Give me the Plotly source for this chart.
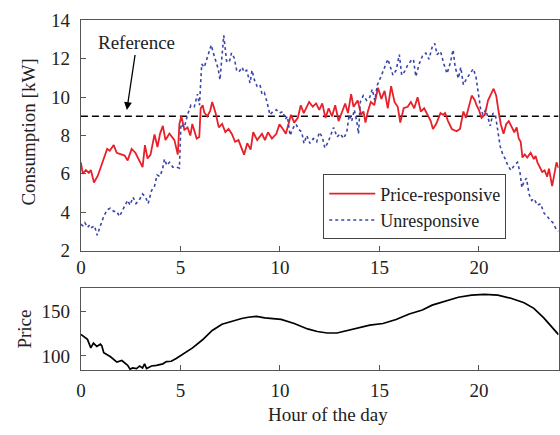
import plotly.graph_objects as go

# ---------------- data ----------------
RED_H = [0.0, 0.1, 0.25, 0.4, 0.5, 0.66, 0.85, 1.07, 1.15, 1.32, 1.45, 1.65, 1.8, 2.06, 2.2, 2.35,
         2.55, 2.74, 2.9, 3.1, 3.22, 3.35, 3.5, 3.7, 3.85, 3.98, 4.12, 4.25, 4.45, 4.6, 4.7, 4.87,
         4.95, 5.05, 5.2, 5.36, 5.5, 5.6, 5.72, 5.82, 5.95, 6.02, 6.12, 6.2, 6.35, 6.5, 6.6, 6.77,
         6.93, 7.1, 7.26, 7.42, 7.58, 7.75, 7.92, 8.08, 8.2, 8.36, 8.53, 8.66, 8.86, 9.1, 9.25, 9.4,
         9.6, 9.82, 9.98, 10.15, 10.3, 10.56, 10.72, 10.9, 11.05, 11.2, 11.47, 11.65, 11.82, 11.98,
         12.13, 12.29, 12.45, 12.62, 12.78, 12.95, 13.1, 13.28, 13.42, 13.58, 13.7, 13.91, 14.08,
         14.2, 14.3, 14.42, 14.57, 14.74, 14.93, 15.1, 15.26, 15.42, 15.59, 15.76, 15.92, 16.05,
         16.22, 16.42, 16.58, 16.75, 16.92, 17.08, 17.25, 17.41, 17.58, 17.69, 17.85, 18.07, 18.2,
         18.3, 18.45, 18.64, 18.88, 19.05, 19.22, 19.35, 19.47, 19.64, 19.8, 19.88, 20.0, 20.13,
         20.3, 20.46, 20.74, 20.87, 20.99, 21.1, 21.24, 21.37, 21.5, 21.62, 21.78, 21.9, 22.0,
         22.1, 22.19, 22.3, 22.43, 22.6, 22.76, 22.85, 22.94, 23.18, 23.3, 23.43, 23.52, 23.68,
         23.78, 23.9, 24.0]
RED_V = [6.6, 6.0, 6.2, 6.05, 6.2, 5.55, 5.9, 6.6, 6.8, 7.3, 7.2, 7.5, 7.1, 7.0, 6.95, 6.7,
         7.3, 7.1, 6.8, 6.35, 7.5, 6.8, 7.0, 8.05, 7.4, 8.1, 8.5, 7.76, 8.1, 7.9, 7.76, 7.0,
         8.6, 9.0, 8.3, 8.42, 8.0, 8.6, 8.2, 7.84, 7.92, 9.42, 9.58, 9.2, 9.0, 9.3, 9.75, 9.17,
         8.42, 8.6, 8.17, 8.34, 8.09, 7.67, 7.76, 7.35, 7.0, 7.6, 7.26, 8.17, 7.76, 8.09, 7.76, 8.17,
         7.84, 8.09, 8.59, 8.34, 8.09, 9.08, 8.67, 8.92, 9.58, 9.17, 9.75, 9.5, 9.67, 9.34,
         9.67, 8.92, 9.42, 9.0, 9.58, 8.75, 9.17, 9.67, 9.17, 10.16, 9.5, 9.83, 9.08,
         9.25, 8.67, 9.25, 9.75, 9.58, 10.49, 9.91, 10.33, 9.42, 10.57, 9.75, 9.5, 8.67,
         9.42, 9.5, 9.75, 9.42, 10.0, 9.25, 9.42, 9.08, 8.75, 8.34, 8.6, 9.17, 9.08,
         9.17, 8.75, 8.34, 8.22, 8.34, 9.25, 8.92, 9.42, 10.08, 9.83, 9.58, 9.34, 8.92,
         9.08, 9.83, 10.44, 10.08, 9.25, 8.59, 8.09, 8.59, 8.75, 8.5, 8.17, 8.42, 7.84,
         7.67, 6.85, 7.01, 6.85, 7.1, 6.77, 6.93, 6.6, 6.1, 6.18, 5.85, 6.27, 5.36,
         5.93, 6.6, 6.3]

BLUE_H = [0.0, 0.1, 0.2, 0.33, 0.45, 0.55, 0.68, 0.82, 0.98, 1.15, 1.32, 1.48, 1.65, 1.8, 1.94,
          2.1, 2.22, 2.35, 2.47, 2.62, 2.77, 2.93, 3.1, 3.25, 3.38, 3.55, 3.7, 3.83, 3.96, 4.09,
          4.2, 4.32, 4.45, 4.62, 4.79, 4.95, 5.03, 5.2, 5.36, 5.53, 5.7, 5.86, 5.96, 6.07, 6.2,
          6.35, 6.55, 6.68, 6.8, 6.9, 6.99, 7.08, 7.18, 7.32, 7.45, 7.57, 7.7, 7.83, 7.94, 8.1,
          8.2, 8.33, 8.5, 8.6, 8.72, 8.85, 9.0, 9.1, 9.22, 9.35, 9.5, 9.65, 9.82, 9.98, 10.15,
          10.27, 10.38, 10.51, 10.68, 10.81, 10.93, 11.1, 11.21, 11.35, 11.51, 11.68, 11.85,
          11.98, 12.13, 12.26, 12.43, 12.58, 12.7, 12.87, 13.03, 13.2, 13.36, 13.48, 13.61,
          13.74, 13.86, 13.95, 14.04, 14.19, 14.36, 14.52, 14.64, 14.77, 14.9, 15.01, 15.18,
          15.3, 15.43, 15.56, 15.68, 15.84, 16.0, 16.12, 16.25, 16.41, 16.58, 16.71, 16.83,
          17.0, 17.16, 17.33, 17.49, 17.66, 17.78, 17.9, 18.07, 18.24, 18.4, 18.57, 18.7,
          18.81, 18.97, 19.09, 19.22, 19.39, 19.55, 19.72, 19.85, 19.97, 20.08, 20.21, 20.34,
          20.46, 20.57, 20.71, 20.84, 20.95, 21.07, 21.2, 21.33, 21.45, 21.61, 21.78, 21.94,
          22.06, 22.16, 22.27, 22.39, 22.52, 22.65, 22.77, 22.94, 23.1, 23.27, 23.43, 23.55,
          23.72, 23.88, 24.0]
BLUE_V = [3.37, 3.29, 3.45, 3.2, 3.35, 3.2, 3.29, 2.79, 3.29, 3.78, 4.12, 4.2, 4.04, 4.04, 3.78,
          4.12, 4.37, 4.62, 4.37, 4.78, 4.45, 4.62, 4.95, 4.78, 4.45, 5.12, 5.36, 5.94, 5.86, 6.19,
          6.77, 6.44, 6.6, 6.35, 6.35, 6.3, 8.6, 8.42, 9.08, 9.58, 9.5, 10.16, 9.58, 11.73, 11.56,
          12.06, 12.72, 12.22, 11.73, 11.48, 10.9, 12.06, 13.22, 11.89, 11.81, 12.3, 12.06, 11.4, 11.31, 11.56,
          11.31, 11.4, 10.74, 11.4, 10.9, 10.57, 10.65, 10.16, 10.24, 9.75, 9.08, 9.25, 9.34, 9.17, 9.25,
          8.84, 9.0, 8.0, 8.42, 8.59, 8.34, 8.17, 7.59, 8.0, 7.59, 7.84, 7.67,
          8.17, 7.92, 7.35, 7.67, 8.09, 8.42, 7.92, 8.09, 7.84, 8.17, 9.08, 8.75,
          9.34, 8.75, 8.09, 9.75, 10.08, 9.83, 10.0, 10.41, 9.83, 10.65, 10.9, 11.4,
          11.65, 11.98, 11.48, 11.15, 11.4, 12.22, 11.15, 11.31, 11.65, 11.89, 11.98, 11.07,
          11.73, 12.14, 12.3, 11.98, 12.64, 12.8, 12.22, 12.39, 11.73, 11.23, 11.81, 12.47,
          11.56, 10.98, 11.56, 10.65, 10.98, 11.23, 11.48, 11.07, 10.24, 9.42, 9.08, 9.34,
          8.92, 8.5, 9.17, 9.0, 8.25, 7.43, 7.01, 6.77, 6.44, 6.18, 6.44, 6.6,
          6.1, 5.28, 5.6, 5.77, 4.94, 4.61, 4.7, 4.36, 4.44, 3.95, 3.79, 3.62,
          3.45, 3.12, 3.0]

PRICE_H = [0.0, 0.33, 0.5, 0.63, 0.8, 0.98, 1.05, 1.15, 1.49, 1.81, 2.06, 2.23, 2.35, 2.47, 2.6,
           2.8, 2.95, 3.1, 3.2, 3.3, 3.55, 3.8, 4.12, 4.3, 4.54, 4.79, 5.11, 5.61, 6.1, 6.6,
           7.09, 7.59, 8.08, 8.41, 8.83, 9.24, 9.73, 10.06, 10.72, 11.39, 11.88, 12.38, 12.87,
           13.37, 14.03, 14.52, 15.18, 15.84, 16.5, 17.16, 17.65, 18.31, 18.97, 19.63, 20.29,
           20.95, 21.61, 22.27, 22.76, 23.26, 23.67, 24.0]
PRICE_V = [124.3, 118.6, 109.0, 114.3, 110.7, 113.2, 111.4, 103.6, 99.0, 92.9, 94.7, 91.0, 89.3, 85.0, 86.4,
           85.7, 88.6, 86.4, 91.0, 85.7, 88.6, 89.3, 91.0, 93.6, 93.9, 97.1, 101.8, 109.0, 117.9, 128.6,
           135.7, 139.3, 142.2, 143.6, 144.6, 142.9, 141.8, 141.1, 136.5, 130.4, 127.5, 125.8, 125.8,
           128.6, 132.2, 134.7, 136.5, 141.1, 147.2, 151.8, 157.2, 161.5, 166.1, 168.6, 169.3,
           168.6, 165.0, 160.0, 153.6, 142.9, 132.2, 124.0]

REFERENCE = 9
X_TICKS = [0, 5, 10, 15, 20]
Y1_TICKS = [2, 4, 6, 8, 10, 12, 14]
Y2_TICKS = [100, 150]

FONT = "Liberation Serif"
FS = 19
TXT = "#222222"
W, H = 560, 435
L, R = 76.7, 559.5
T1, B1 = 11, 252.7
T2, B2 = 291.7, 378.3

fig = go.Figure()
fig.add_trace(go.Scatter(x=[0, 24], y=[REFERENCE, REFERENCE], mode="lines",
                         line=dict(color="black", width=1.4, dash="7px,4px"),
                         showlegend=False, hoverinfo="skip", xaxis="x", yaxis="y"))
fig.add_trace(go.Scatter(x=RED_H, y=RED_V, mode="lines", name="Price-responsive",
                         line=dict(color="#e8202a", width=1.8), xaxis="x", yaxis="y"))
fig.add_trace(go.Scatter(x=BLUE_H, y=BLUE_V, mode="lines", name="Unresponsive",
                         line=dict(color="#3b47a8", width=1.6, dash="dot"), xaxis="x", yaxis="y"))
fig.add_trace(go.Scatter(x=PRICE_H, y=PRICE_V, mode="lines", showlegend=False,
                         line=dict(color="black", width=1.7), xaxis="x2", yaxis="y2"))

axis_common = dict(showgrid=False, zeroline=False, showline=True, linecolor="#555555",
                   linewidth=1, mirror=True, ticks="inside", ticklen=5, tickcolor="#555555",
                   tickfont=dict(family=FONT, size=FS, color=TXT))

fig.update_layout(
    width=W, height=H, margin=dict(l=0, r=0, t=0, b=0),
    paper_bgcolor="white", plot_bgcolor="white",
    font=dict(family=FONT, size=FS, color=TXT),
    xaxis=dict(domain=[L / W, R / W], range=[0, 24], tickvals=X_TICKS, anchor="y", **axis_common),
    yaxis=dict(domain=[1 - B1 / H, 1 - T1 / H], range=[2, 14], tickvals=Y1_TICKS, anchor="x",
               ticklabelstandoff=6, **axis_common),
    xaxis2=dict(domain=[L / W, R / W], range=[0, 24], tickvals=X_TICKS, anchor="y2",
                ticklabelstandoff=3, **axis_common),
    yaxis2=dict(domain=[1 - B2 / H, 1 - T2 / H], range=[84, 177], tickvals=Y2_TICKS, anchor="x2",
                ticklabelstandoff=6, **axis_common),
    legend=dict(x=321.7 / W, y=1 - 172.7 / H, xanchor="left", yanchor="top",
                bgcolor="white", bordercolor="#444444", borderwidth=1,
                font=dict(family=FONT, size=18, color=TXT), itemwidth=46,
                tracegroupgap=0),
    showlegend=True,
)

fig.add_annotation(text="Reference", xref="x", yref="y", x=2.31, y=9.33,
                   ax=10, ay=-67, axref="pixel", ayref="pixel",
                   showarrow=True, arrowhead=2, arrowsize=1.2, arrowwidth=1.3, arrowcolor="black",
                   font=dict(family=FONT, size=FS, color=TXT))
fig.add_annotation(text="Consumption [kW]", xref="paper", yref="paper", x=24 / W,
                   y=1 - 128 / H, textangle=-90, showarrow=False,
                   xanchor="center", yanchor="middle",
                   font=dict(family=FONT, size=FS, color=TXT))
fig.add_annotation(text="Price", xref="paper", yref="paper", x=20 / W,
                   y=1 - (T2 + B2) / 2 / H, textangle=-90, showarrow=False,
                   xanchor="center", yanchor="middle",
                   font=dict(family=FONT, size=FS, color=TXT))
fig.add_annotation(text="Hour of the day", xref="paper", yref="paper", x=326 / W,
                   y=1 - 425 / H, showarrow=False, xanchor="center", yanchor="middle",
                   font=dict(family=FONT, size=FS, color=TXT))

fig.write_html("out.html")
